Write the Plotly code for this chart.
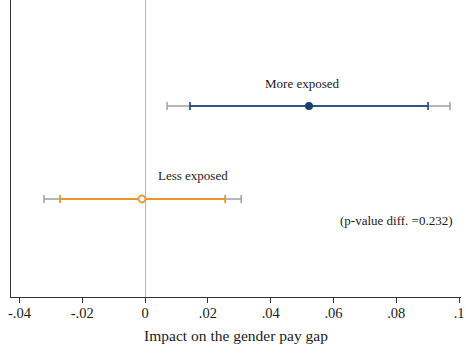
import plotly.graph_objects as go

groups = ["Less exposed", "More exposed"]
ypos = [1, 2]
estimates = [-0.0010, 0.0522]
ci90_low = [-0.0271, 0.0143]
ci90_high = [0.0255, 0.0901]
ci95_low = [-0.0322, 0.0070]
ci95_high = [0.0306, 0.0971]
colors = ["#e8962e", "#2b5687"]
marker_colors = ["#e8962e", "#1d3f6e"]
tick_vals = [-0.04, -0.02, 0, 0.02, 0.04, 0.06, 0.08, 0.1]
tick_text = ["-.04", "-.02", "0", ".02", ".04", ".06", ".08", ".1"]
pvalue_text = "(p-value diff. =0.232)"

fig = go.Figure()
for i in range(2):
    est = estimates[i]
    fig.add_trace(go.Scatter(
        x=[est], y=[ypos[i]], mode="markers",
        marker=dict(size=1, color="rgba(0,0,0,0)"),
        error_x=dict(type="data", symmetric=False,
                     array=[ci95_high[i] - est], arrayminus=[est - ci95_low[i]],
                     color="#a0a0a0", thickness=1.5, width=4),
        showlegend=False, hoverinfo="skip"))
    fig.add_trace(go.Scatter(
        x=[est], y=[ypos[i]], mode="markers",
        marker=dict(size=1, color="rgba(0,0,0,0)"),
        error_x=dict(type="data", symmetric=False,
                     array=[ci90_high[i] - est], arrayminus=[est - ci90_low[i]],
                     color=colors[i], thickness=1.8, width=4),
        showlegend=False, hoverinfo="skip"))
fig.add_trace(go.Scatter(
    x=[estimates[0]], y=[ypos[0]], mode="markers",
    marker=dict(size=7, color="white", symbol="circle",
                line=dict(color=marker_colors[0], width=1.8)),
    showlegend=False))
fig.add_trace(go.Scatter(
    x=[estimates[1]], y=[ypos[1]], mode="markers",
    marker=dict(size=8, color=marker_colors[1], symbol="circle"),
    showlegend=False))

font = "Liberation Serif"
fig.add_annotation(x=0.05, y=2.24, text=groups[1], showarrow=False,
                   font=dict(family=font, size=13, color="#1a1a1a"))
fig.add_annotation(x=0.0153, y=1.25, text=groups[0], showarrow=False,
                   font=dict(family=font, size=13, color="#1a1a1a"))
fig.add_annotation(x=0.0801, y=0.765, text=pvalue_text, showarrow=False,
                   font=dict(family=font, size=13, color="#1a1a1a"))

fig.update_layout(
    width=466, height=353,
    margin=dict(l=11, r=5, t=0, b=56),
    paper_bgcolor="white", plot_bgcolor="white",
    font=dict(family=font, size=13, color="#1a1a1a"),
    xaxis=dict(range=[-0.0427, 0.1006], tickvals=tick_vals, ticktext=tick_text,
               automargin=False,
               showgrid=False, zeroline=True, zerolinecolor="#9cc3dc", zerolinewidth=1,
               showline=True, linecolor="#333333", linewidth=1.2,
               ticks="outside", ticklen=5, tickcolor="#333333",
               ticklabelstandoff=-3,
               tickfont=dict(family=font, size=14.5),
               title=dict(text="Impact on the gender pay gap",
                          font=dict(family=font, size=15.5), standoff=10)),
    yaxis=dict(range=[-0.054, 3.14], showticklabels=False, showgrid=False,
               automargin=False,
               zeroline=False, showline=True, linecolor="#333333", linewidth=1.2,
               ticks=""),
)
fig.write_html("out.html", config={"displayModeBar": False},
               post_script="document.body.style.margin='0';document.body.style.padding='0';")
